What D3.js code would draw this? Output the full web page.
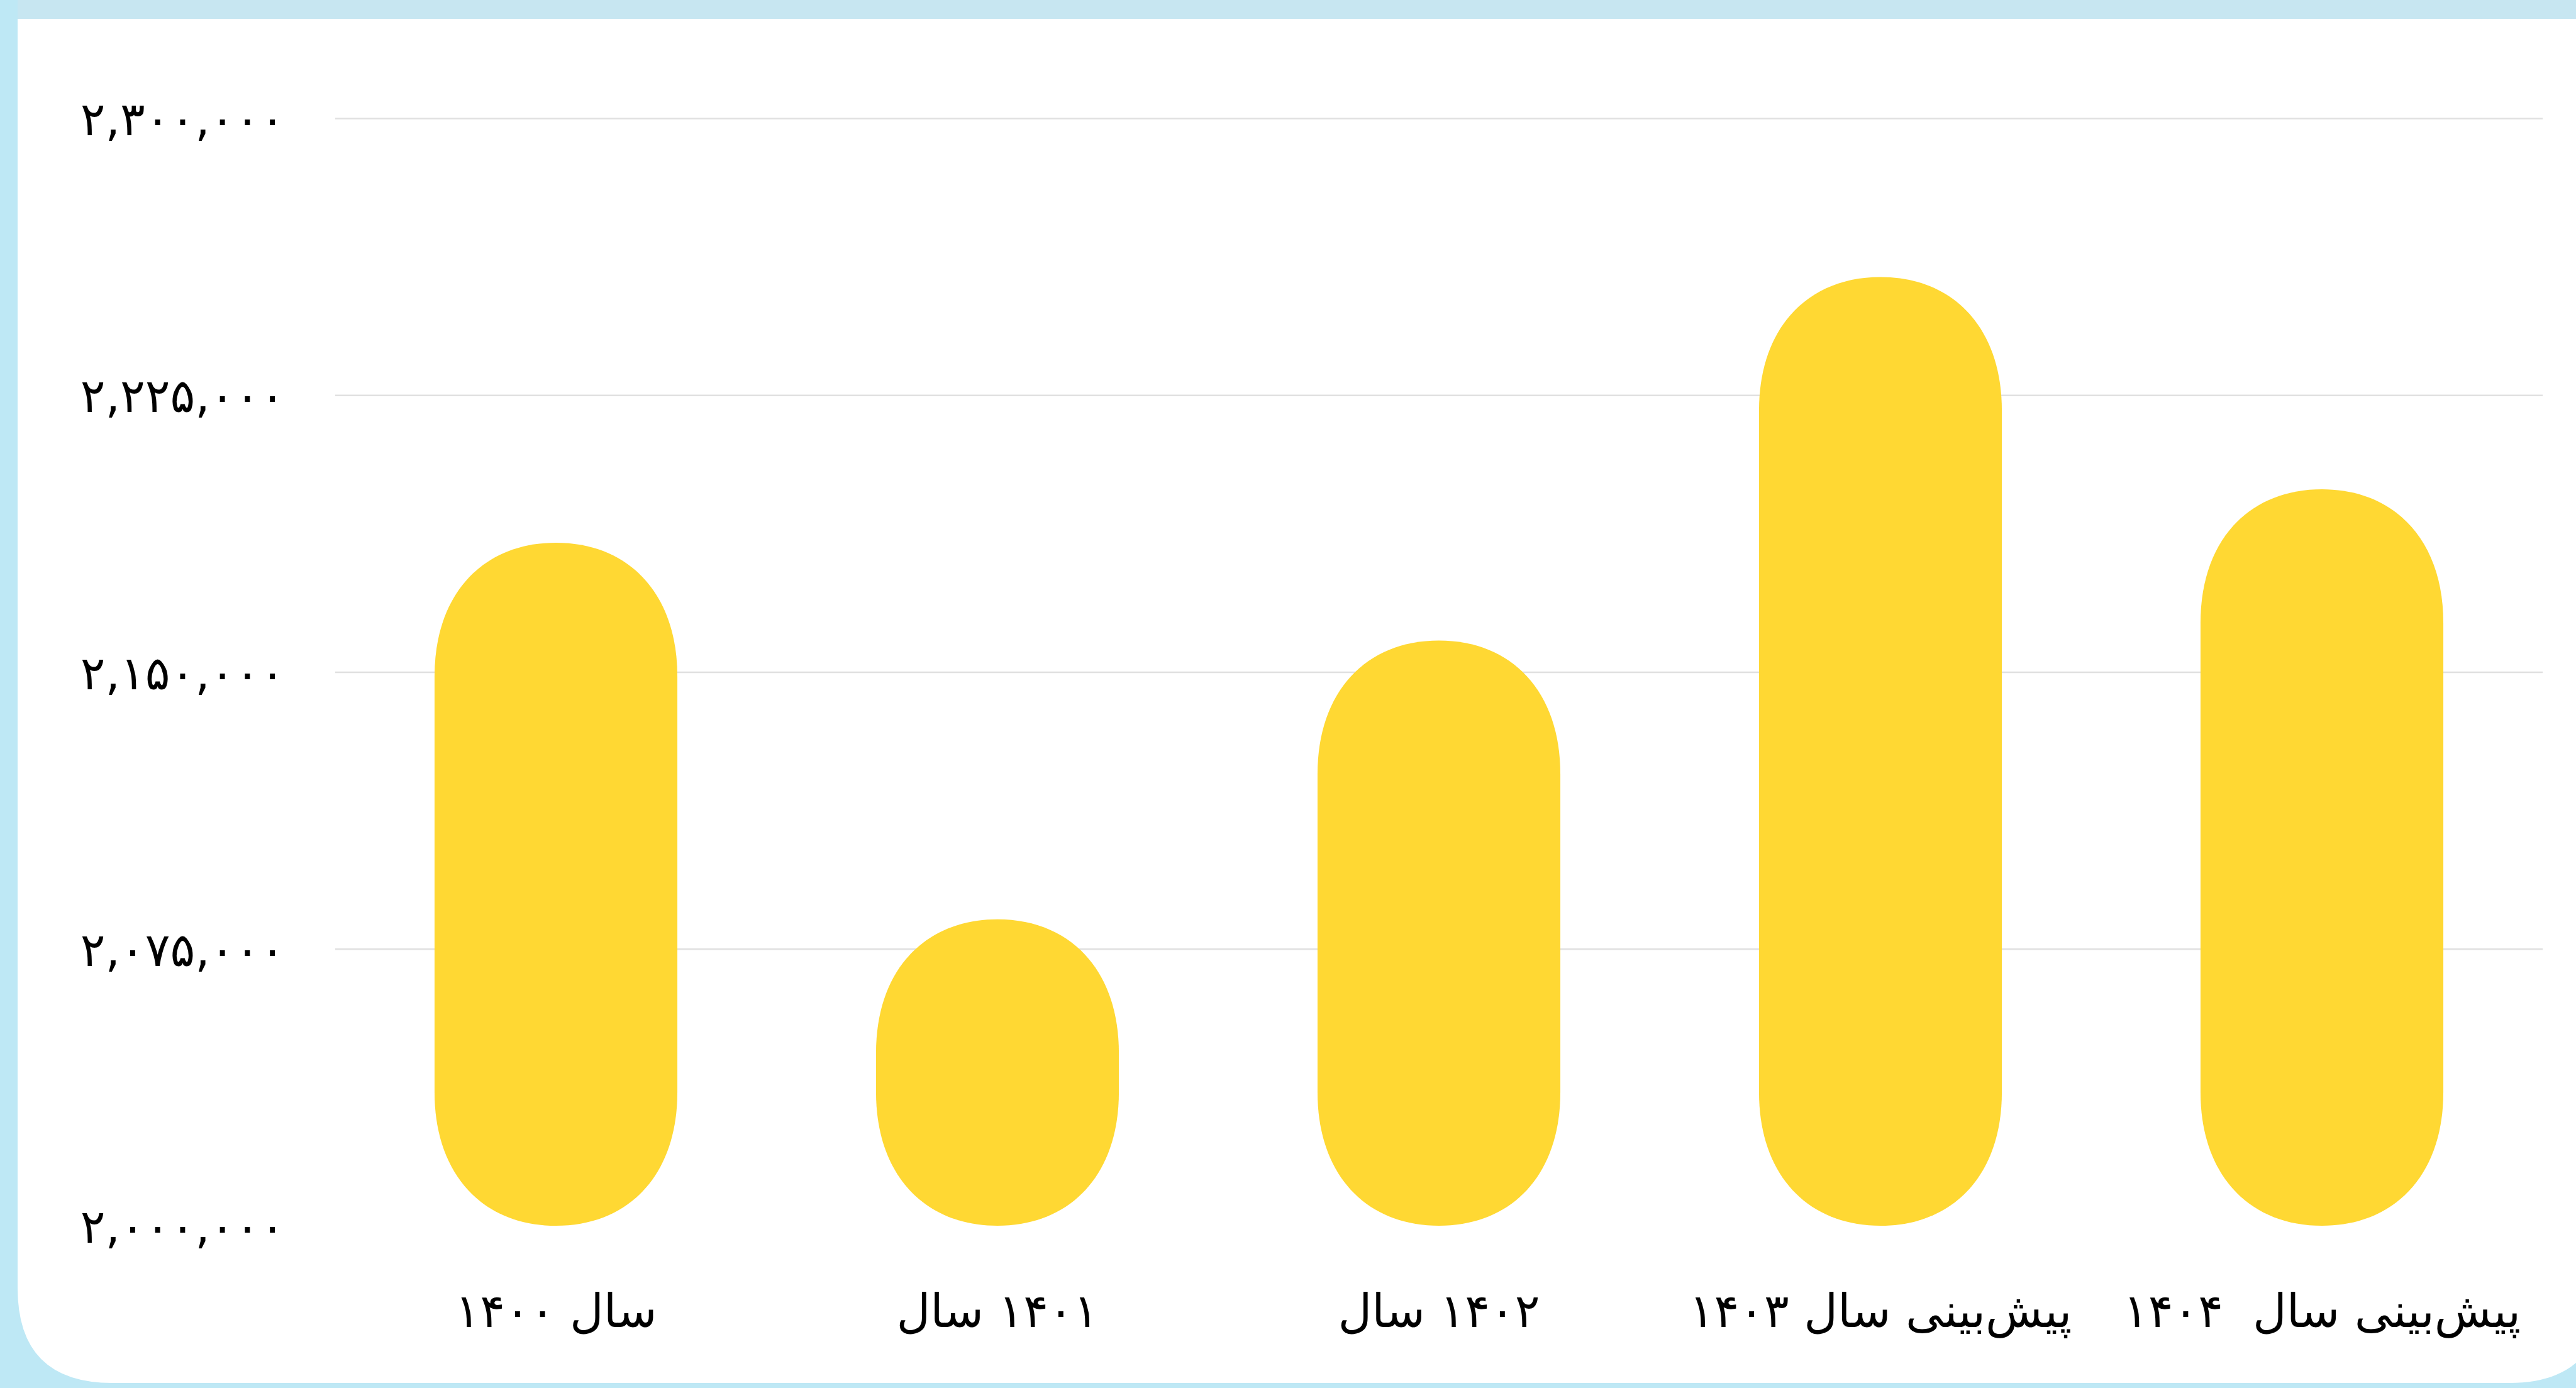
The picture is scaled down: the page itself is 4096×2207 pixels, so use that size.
<!DOCTYPE html>
<html>
<head>
<meta charset="utf-8">
<script src="https://cdn.jsdelivr.net/npm/d3@7"></script>
<style>
  html, body { margin: 0; padding: 0; background: #bee8f5; overflow: hidden; }
  text { font-family: "DejaVu Sans", sans-serif; }
</style>
</head>
<body>
<div id="chart"></div>
<script>
// data
const categories = ["سال ۱۴۰۰", "۱۴۰۱ سال", "۱۴۰۲ سال", "پیش‌بینی سال ۱۴۰۳", "پیش‌بینی سال  ۱۴۰۴"];
const values = [2185000, 2083000, 2158500, 2257000, 2199500];
const yTicks = [2000000, 2075000, 2150000, 2225000, 2300000];
const yTickLabels = ["۲,۰۰۰,۰۰۰", "۲,۰۷۵,۰۰۰", "۲,۱۵۰,۰۰۰", "۲,۲۲۵,۰۰۰", "۲,۳۰۰,۰۰۰"];

const width = 4096, height = 2207;
const plotLeft = 533, plotRight = 4043, plotTop = 188, plotBottom = 1949;
const barColor = "#ffd833";
const fontSize = 74;

const svg = d3.select("#chart").append("svg")
  .attr("width", width)
  .attr("height", height);

// frame: top band + white card with rounded bottom corners
svg.append("rect").attr("x", 28).attr("y", 0).attr("width", width).attr("height", 31).attr("fill", "#c7e6f1");
const cx0 = 28, cy0 = 30, cx1 = 4140, cy1 = 2199, r = 151;
svg.append("path")
  .attr("fill", "#fff")
  .attr("d", `M${cx0},${cy0} H${cx1} V${cy1 - r} Q${cx1},${cy1} ${cx1 - r},${cy1} H${cx0 + r} Q${cx0},${cy1} ${cx0},${cy1 - r} Z`);

const x = d3.scaleBand().domain(categories).range([plotLeft, plotRight]).paddingInner(0.45).paddingOuter(0.225);
const y = d3.scaleLinear().domain([2000000, 2300000]).range([plotBottom, plotTop]);

// y axis with gridlines
const yAxis = d3.axisLeft(y)
  .tickValues(yTicks)
  .tickFormat((d, i) => yTickLabels[i])
  .tickSizeInner(-(plotRight - plotLeft))
  .tickSizeOuter(0)
  .tickPadding(80);

const gy = svg.append("g").attr("transform", `translate(${plotLeft},0)`).call(yAxis);
gy.select(".domain").remove();
gy.selectAll(".tick line").attr("stroke", "#e0e0e0").attr("stroke-width", 2.4)
  .attr("opacity", d => d === 2000000 ? 0 : 1);
gy.selectAll(".tick text")
  .attr("font-size", fontSize)
  .attr("fill", "#000")
  .attr("dy", "0.36em")
  .style("font-family", "'DejaVu Sans', sans-serif");

// pill shaped bars, caps are smoothed semicircles
function pill(x0, y0, w, h) {
  const hw = w / 2;
  let cap = hw * 1.1;
  if (cap > h / 2) cap = h / 2;
  const s = cap / (hw * 1.1);
  const a = hw * 0.6, b = hw * 0.68 * s;
  const x1 = x0 + w, y1 = y0 + h, xm = x0 + hw;
  return `M${x0},${y0 + cap}` +
    ` C${x0},${y0 + cap - b} ${xm - a},${y0} ${xm},${y0}` +
    ` C${xm + a},${y0} ${x1},${y0 + cap - b} ${x1},${y0 + cap}` +
    ` V${y1 - cap}` +
    ` C${x1},${y1 - cap + b} ${xm + a},${y1} ${xm},${y1}` +
    ` C${xm - a},${y1} ${x0},${y1 - cap + b} ${x0},${y1 - cap} Z`;
}

svg.append("g").selectAll("path")
  .data(values)
  .join("path")
  .attr("fill", barColor)
  .attr("d", (d, i) => pill(x(categories[i]), y(d), x.bandwidth(), y(2000000) - y(d)));

// x labels
svg.append("g").selectAll("text")
  .data(categories)
  .join("text")
  .attr("x", d => x(d) + x.bandwidth() / 2)
  .attr("y", 2110)
  .attr("text-anchor", "middle")
  .attr("direction", "rtl")
  .style("white-space", "pre")
  .attr("font-size", fontSize)
  .attr("fill", "#000")
  .text(d => d);
</script>
</body>
</html>
